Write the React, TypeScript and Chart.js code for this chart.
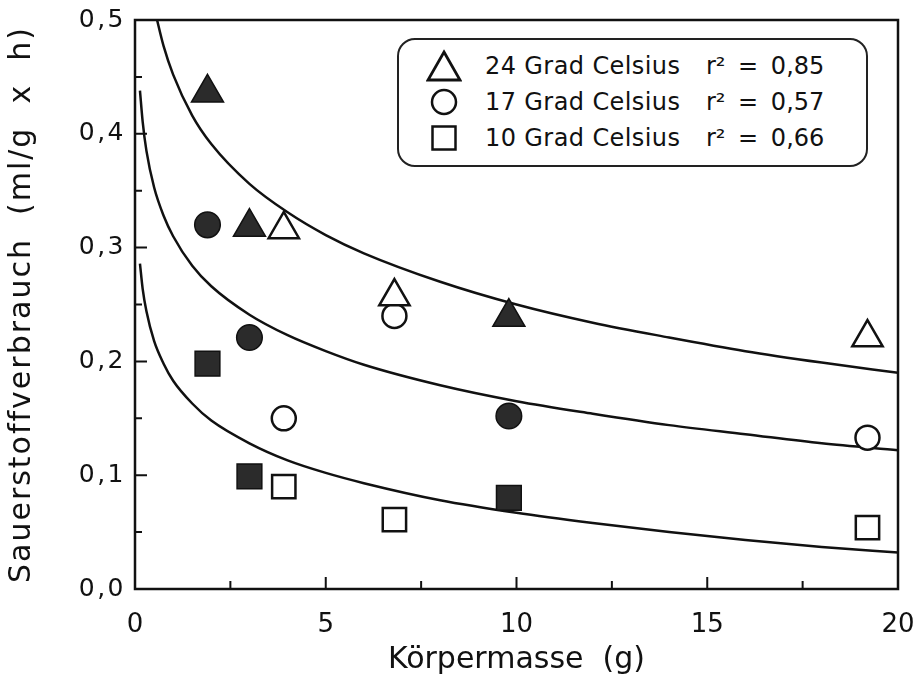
import React, { useEffect, useRef } from "react";
import { Chart, registerables } from "chart.js";

Chart.register(...registerables);

// ---- data ----
const massFilled = [1.9, 3.0, 9.8];
const massOpen = [3.9, 6.8, 19.2];

const o2_24_filled = [0.436, 0.318, 0.239];
const o2_24_open = [0.316, 0.257, 0.221];
const o2_17_filled = [0.32, 0.221, 0.152];
const o2_17_open = [0.15, 0.24, 0.133];
const o2_10_filled = [0.198, 0.099, 0.08];
const o2_10_open = [0.09, 0.061, 0.054];

// fitted curves
const curveMass24 = [0.55, 0.75, 1, 1.5, 2, 3, 4, 5, 6, 8, 10, 12, 14, 16, 18, 20];
const fit24 = [0.504, 0.477, 0.452, 0.416, 0.391, 0.356, 0.331, 0.311, 0.295, 0.27, 0.25, 0.234, 0.221, 0.209, 0.199, 0.19];
const curveMass = [0.13, 0.2, 0.3, 0.5, 0.75, 1, 1.5, 2, 3, 4, 5, 6, 8, 10, 12, 14, 16, 18, 20];
const fit17 = [0.438, 0.411, 0.385, 0.353, 0.328, 0.31, 0.284, 0.266, 0.241, 0.223, 0.209, 0.197, 0.179, 0.165, 0.154, 0.144, 0.136, 0.128, 0.122];
const fit10 = [0.286, 0.264, 0.244, 0.218, 0.198, 0.183, 0.163, 0.148, 0.128, 0.113, 0.102, 0.093, 0.078, 0.067, 0.058, 0.05, 0.043, 0.037, 0.032];

const xMajorTicks = [0, 5, 10, 15, 20];
const xMinorTicks = [2.5, 7.5, 12.5, 17.5];
const yMajorTicks = [0, 0.1, 0.2, 0.3, 0.4, 0.5];
const yMinorTicks = [0.05, 0.15, 0.25, 0.35, 0.45];

const legendLabels = ["24 Grad Celsius", "17 Grad Celsius", "10 Grad Celsius"];
const legendR2 = ["0,85", "0,57", "0,66"];

const xTitle = "Körpermasse  (g)";
const yTitle = "Sauerstoffverbrauch  (ml/g  x  h)";

const FONT = "'DejaVu Sans', Verdana, sans-serif";
const INK = "#111";
const FILL = "#2b2b2b";

const pts = (xs: number[], ys: number[]) => xs.map((x, i) => ({ x, y: ys[i] }));

const markerSet = (label: string, data: any, style: string, filled: boolean, r: number) => ({
  type: "scatter" as const,
  label,
  data,
  pointStyle: style,
  pointRadius: r,
  pointHoverRadius: r,
  pointBackgroundColor: filled ? FILL : "#fff",
  pointBorderColor: INK,
  pointBorderWidth: filled ? 1.5 : 2.5,
  showLine: false,
  order: 0,
});

const curveSet = (label: string, data: any) => ({
  type: "line" as const,
  label,
  data,
  borderColor: INK,
  borderWidth: 2.5,
  pointRadius: 0,
  fill: false,
  cubicInterpolationMode: "monotone" as const,
  order: 1,
});

const framePlugin = {
  id: "frameTicks",
  afterLayout(chart: any) {
    const ys = chart.scales.y;
    if (ys && !ys.__wrapped) {
      ys.__wrapped = true;
      const dl = ys.drawLabels.bind(ys);
      ys.drawLabels = (area: any) => {
        const c = chart.ctx;
        c.save();
        (c as any).letterSpacing = "2.5px";
        dl(area);
        c.restore();
      };
      const dt = ys.drawTitle.bind(ys);
      ys.drawTitle = () => {
        const c = chart.ctx;
        c.save();
        (c as any).letterSpacing = "2px";
        dt();
        c.restore();
      };
    }
  },
  afterDraw(chart: any) {
    const { ctx, chartArea: a, scales } = chart;
    ctx.save();
    ctx.strokeStyle = INK;
    ctx.lineWidth = 2.5;
    ctx.strokeRect(a.left, a.top, a.right - a.left, a.bottom - a.top);
    ctx.lineWidth = 2;
    ctx.beginPath();
    xMajorTicks.forEach((v) => {
      const px = scales.x.getPixelForValue(v);
      ctx.moveTo(px, a.bottom);
      ctx.lineTo(px, a.bottom - 12);
    });
    xMinorTicks.forEach((v) => {
      const px = scales.x.getPixelForValue(v);
      ctx.moveTo(px, a.bottom);
      ctx.lineTo(px, a.bottom - 8);
    });
    yMajorTicks.forEach((v) => {
      const py = scales.y.getPixelForValue(v);
      ctx.moveTo(a.left, py);
      ctx.lineTo(a.left + 12, py);
    });
    yMinorTicks.forEach((v) => {
      const py = scales.y.getPixelForValue(v);
      ctx.moveTo(a.left, py);
      ctx.lineTo(a.left + 7, py);
    });
    ctx.stroke();
    ctx.restore();
  },
};

function Symbol({ kind }: { kind: string }) {
  if (kind === "triangle")
    return (
      <svg width="36" height="34" viewBox="0 0 36 34">
        <polygon points="18,3 34,31 2,31" fill="#fff" stroke={INK} strokeWidth="2.8" strokeLinejoin="miter" />
      </svg>
    );
  if (kind === "circle")
    return (
      <svg width="36" height="34" viewBox="0 0 36 34">
        <circle cx="18" cy="17" r="12" fill="#fff" stroke={INK} strokeWidth="2.5" />
      </svg>
    );
  return (
    <svg width="36" height="34" viewBox="0 0 36 34">
      <rect x="6.5" y="5.5" width="23" height="23" fill="#fff" stroke={INK} strokeWidth="2.5" />
    </svg>
  );
}

export default function App() {
  const ref = useRef<HTMLCanvasElement | null>(null);

  useEffect(() => {
    if (!ref.current) return;
    const chart = new Chart(ref.current, {
      type: "scatter",
      data: {
        datasets: [
          markerSet("24 filled", pts(massFilled, o2_24_filled), "triangle", true, 18.5),
          markerSet("24 open", pts(massOpen, o2_24_open), "triangle", false, 17.5),
          markerSet("17 filled", pts(massFilled, o2_17_filled), "circle", true, 12.8),
          markerSet("17 open", pts(massOpen, o2_17_open), "circle", false, 12),
          markerSet("10 filled", pts(massFilled, o2_10_filled), "rect", true, 17.5),
          markerSet("10 open", pts(massOpen, o2_10_open), "rect", false, 16.5),
          curveSet("fit 24", pts(curveMass24, fit24)),
          curveSet("fit 17", pts(curveMass, fit17)),
          curveSet("fit 10", pts(curveMass, fit10)),
        ] as any,
      },
      options: {
        responsive: false,
        animation: false,
        layout: { padding: { top: 17, right: 23, left: 0, bottom: 0 } },
        plugins: { legend: { display: false }, tooltip: { enabled: false } },
        scales: {
          x: {
            type: "linear",
            min: 0,
            max: 20,
            afterFit: (s: any) => {
              s.height = 89;
              s.paddingLeft = 0;
              s.paddingRight = 0;
            },
            grid: { display: false, drawTicks: false },
            border: { display: false },
            ticks: {
              stepSize: 5,
              padding: 21,
              color: INK,
              font: { family: FONT, size: 26 },
              maxRotation: 0,
            },
            title: {
              display: true,
              text: xTitle,
              color: INK,
              font: { family: FONT, size: 30 },
              padding: { top: 15, bottom: 0 },
            },
          },
          y: {
            type: "linear",
            min: 0,
            max: 0.5,
            afterFit: (s: any) => {
              s.width = 135;
              s.paddingTop = 0;
              s.paddingBottom = 0;
            },
            grid: { display: false, drawTicks: false },
            border: { display: false },
            ticks: {
              stepSize: 0.1,
              padding: 9,
              color: INK,
              font: { family: FONT, size: 25 },
              callback: (v: any) => Number(v).toFixed(1).replace(".", ","),
            },
            title: {
              display: true,
              text: yTitle,
              color: INK,
              font: { family: FONT, size: 30 },
              padding: { top: 4, bottom: 0 },
            },
          },
        },
      },
      plugins: [framePlugin],
    });
    return () => chart.destroy();
  }, []);

  const kinds = ["triangle", "circle", "rect"];
  const centers = [26, 62, 98];

  return (
    <div style={{ position: "absolute", left: 0, top: 0, width: 921, height: 678, background: "#fff" }}>
      <canvas ref={ref} width={921} height={678} style={{ display: "block", width: 921, height: 678 }} />
      <div
        style={{
          position: "absolute",
          left: 397,
          top: 38,
          width: 471,
          height: 129,
          border: "2.5px solid #222",
          borderRadius: 18,
          boxSizing: "border-box",
          background: "#fff",
          fontFamily: FONT,
          fontSize: 24,
          color: INK,
        }}
      >
        {legendLabels.map((lab, i) => (
          <React.Fragment key={lab}>
            <div style={{ position: "absolute", left: 27, top: centers[i] - 17, width: 36, height: 34 }}>
              <Symbol kind={kinds[i]} />
            </div>
            <div style={{ position: "absolute", left: 86, top: centers[i] - 15, lineHeight: "30px", whiteSpace: "pre", letterSpacing: "0.4px" }}>
              {lab}
            </div>
            <div style={{ position: "absolute", left: 307, top: centers[i] - 15, lineHeight: "30px", whiteSpace: "pre", wordSpacing: "5px" }}>
              {"r² = " + legendR2[i]}
            </div>
          </React.Fragment>
        ))}
      </div>
    </div>
  );
}
